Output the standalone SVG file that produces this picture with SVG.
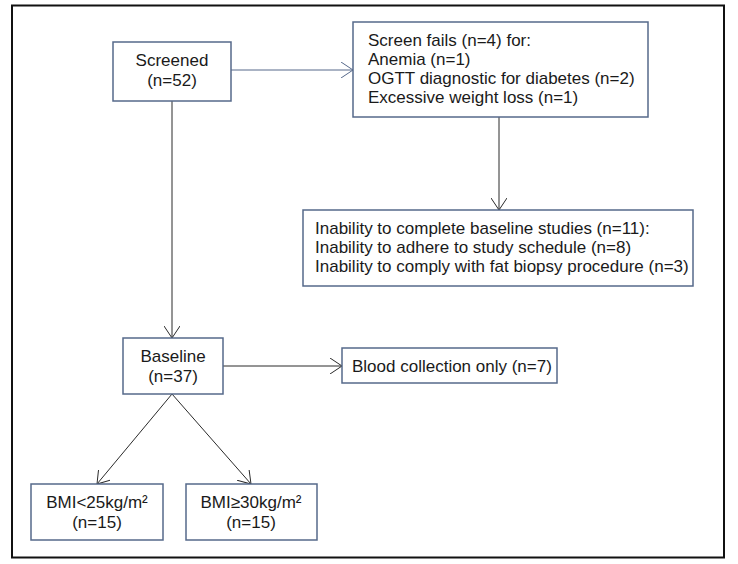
<svg xmlns="http://www.w3.org/2000/svg" width="738" height="564" viewBox="0 0 738 564">
<defs>
<style>
.box{fill:#fff;stroke:#56698a;stroke-width:1.5}
.t{font-family:"Liberation Sans",Arial,sans-serif;font-size:17px;fill:#1a1a1a}
.c{text-anchor:middle}
.ln{stroke:#2a2a2a;stroke-width:1;fill:none}
.lg{stroke:#56698a;stroke-width:1;fill:none}
</style>
<marker id="ah" viewBox="0 0 12 16" refX="12" refY="8" markerWidth="12" markerHeight="16" markerUnits="userSpaceOnUse" orient="auto">
<path d="M0,0 L12,8 L0,16" fill="none" stroke="#2a2a2a" stroke-width="1"/>
</marker>
<marker id="ahg" viewBox="0 0 12 16" refX="12" refY="8" markerWidth="12" markerHeight="16" markerUnits="userSpaceOnUse" orient="auto">
<path d="M0,0 L12,8 L0,16" fill="none" stroke="#56698a" stroke-width="1"/>
</marker>
</defs>
<rect width="738" height="564" fill="#fff"/>
<rect x="12" y="5.5" width="712" height="552" fill="none" stroke="#111" stroke-width="2"/>
<g id="connectors">
<line class="lg" x1="231" y1="70" x2="353" y2="70" marker-end="url(#ahg)"/>
<line class="ln" x1="499" y1="117" x2="499" y2="210" marker-end="url(#ah)"/>
<line class="ln" x1="172" y1="101" x2="172" y2="338" marker-end="url(#ah)"/>
<line class="ln" x1="223" y1="366" x2="342" y2="366" marker-end="url(#ah)"/>
<line class="ln" x1="172" y1="394" x2="97" y2="484" marker-end="url(#ah)"/>
<line class="ln" x1="172" y1="394" x2="251" y2="484" marker-end="url(#ah)"/>
</g>
<g id="screened">
<rect class="box" x="113" y="42" width="118" height="59"/>
<text class="t c" x="172" y="66">Screened</text>
<text class="t c" x="172" y="86">(n=52)</text>
</g>
<g id="screenfails">
<rect class="box" x="353" y="22" width="295" height="95"/>
<text class="t" x="368" y="46">Screen fails (n=4) for:</text>
<text class="t" x="368" y="65">Anemia (n=1)</text>
<text class="t" x="368" y="84">OGTT diagnostic for diabetes (n=2)</text>
<text class="t" x="368" y="103">Excessive weight loss (n=1)</text>
</g>
<g id="inability">
<rect class="box" x="303" y="210" width="390" height="76"/>
<text class="t" x="315" y="234">Inability to complete baseline studies (n=11):</text>
<text class="t" x="315" y="253">Inability to adhere to study schedule (n=8)</text>
<text class="t" x="315" y="272">Inability to comply with fat biopsy procedure (n=3)</text>
</g>
<g id="baseline">
<rect class="box" x="123" y="338" width="100" height="56"/>
<text class="t c" x="173" y="362">Baseline</text>
<text class="t c" x="173" y="382">(n=37)</text>
</g>
<g id="blood">
<rect class="box" x="342" y="348" width="215" height="35"/>
<text class="t" x="352" y="372">Blood collection only (n=7)</text>
</g>
<g id="bmi-low">
<rect class="box" x="31" y="484" width="132" height="56"/>
<text class="t c" x="97" y="508">BMI&lt;25kg/m²</text>
<text class="t c" x="97" y="528">(n=15)</text>
</g>
<g id="bmi-high">
<rect class="box" x="186" y="484" width="131" height="56"/>
<text class="t c" x="251" y="508">BMI≥30kg/m²</text>
<text class="t c" x="251" y="528">(n=15)</text>
</g>
</svg>
